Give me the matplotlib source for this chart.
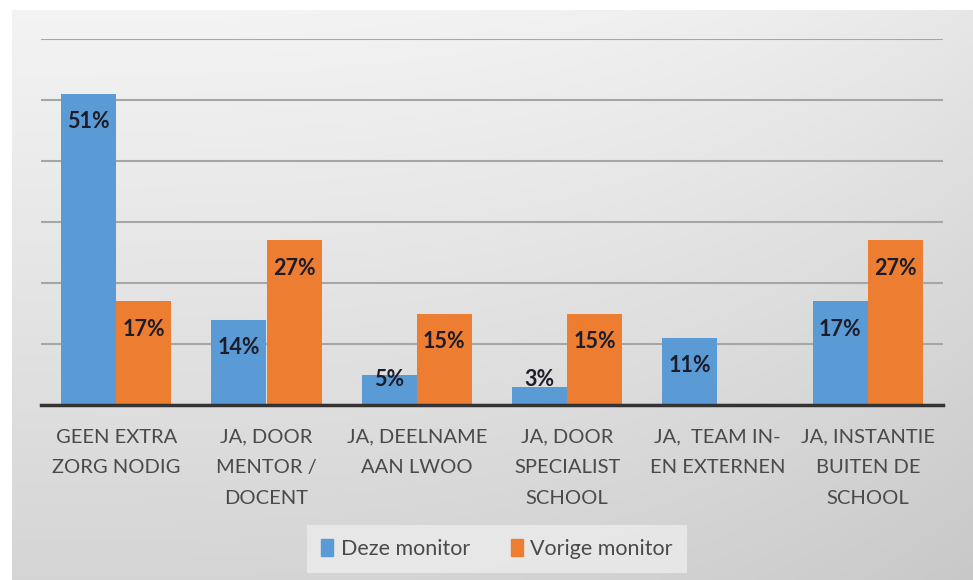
import numpy as np
import matplotlib
matplotlib.use("Agg")
import matplotlib.pyplot as plt
from matplotlib.patches import Patch

# Data
categories = ["GEEN EXTRA\nZORG NODIG", "JA, DOOR\nMENTOR /\nDOCENT", "JA, DEELNAME\nAAN LWOO",
              "JA, DOOR\nSPECIALIST\nSCHOOL", "JA,  TEAM IN-\nEN EXTERNEN", "JA, INSTANTIE\nBUITEN DE\nSCHOOL"]
deze = [51, 14, 5, 3, 11, 17]
vorige = [17, 27, 15, 15, 0, 27]
series_names = ["Deze monitor", "Vorige monitor"]

blue = "#5b9bd5"
orange = "#ed7d31"

plt.rcParams['font.family'] = ['Lato', 'DejaVu Sans']

fig = plt.figure(figsize=(9.73, 5.80), dpi=100)
fig.patch.set_facecolor("white")

# gradient background of the chart area
bg = fig.add_axes([12/973, 0, 1 - 12/973, 1 - 10/580])
bg.set_axis_off()
grad = np.linspace(0, 1, 256)
yy, xx = np.meshgrid(grad, np.linspace(0, 1, 256), indexing='ij')
shade = 0.955 - 0.12 * yy - 0.05 * xx**3
bg.imshow(np.dstack([shade] * 3), aspect='auto', extent=[0, 1, 0, 1], origin='upper')

ax = fig.add_axes([41/973, 1 - 405/580, (943 - 41)/973, (405 - 39)/580])
ax.patch.set_alpha(0)

x = np.arange(len(categories))
w = 0.366
b1 = ax.bar(x - w/2, deze, w, color=blue, zorder=3)
b2 = ax.bar(x + w/2, vorige, w, color=orange, zorder=3)

# data labels at the inside end of each bar
for bars, vals in [(b1, deze), (b2, vorige)]:
    for rect, v in zip(bars, vals):
        if v == 0:
            continue
        ypos = max(v - 4.6, 4.1)
        ax.text(rect.get_x() + rect.get_width()/2, ypos, f"{v}%", ha='center', va='center',
                fontsize=15.5, fontweight='bold', color='#1c1c2a', zorder=4)

ax.set_ylim(0, 60)
ax.set_xlim(-0.5, len(categories) - 0.5)
ax.set_yticks(np.arange(0, 61, 10))
ax.yaxis.grid(True, color='#a6a6a6', linewidth=1.5, zorder=0)
ax.tick_params(axis='y', left=False, labelleft=False)
ax.tick_params(axis='x', length=0, pad=17)
ax.set_xticks(x)
ax.set_xticklabels(categories, fontsize=14.5, color='#4a4a4a', linespacing=1.97)
for s in ['top', 'right', 'left']:
    ax.spines[s].set_visible(False)
ax.spines['bottom'].set_color('#333333')
ax.spines['bottom'].set_linewidth(2.5)
ax.spines['bottom'].set_zorder(5)

handles = [Patch(color=blue), Patch(color=orange)]
leg = fig.legend(handles, series_names, loc='center', bbox_to_anchor=(497/973, 1 - 549/580),
                 ncol=2, fontsize=15.5, frameon=True, fancybox=False, handlelength=0.55,
                 handleheight=0.85, handletextpad=0.35, columnspacing=1.9, borderpad=0.65,
                 borderaxespad=0)
leg.get_frame().set_facecolor('#ececec')
leg.get_frame().set_edgecolor('none')
for t in leg.get_texts():
    t.set_color('#4a4a4a')

fig.savefig("out.png", dpi=100)
